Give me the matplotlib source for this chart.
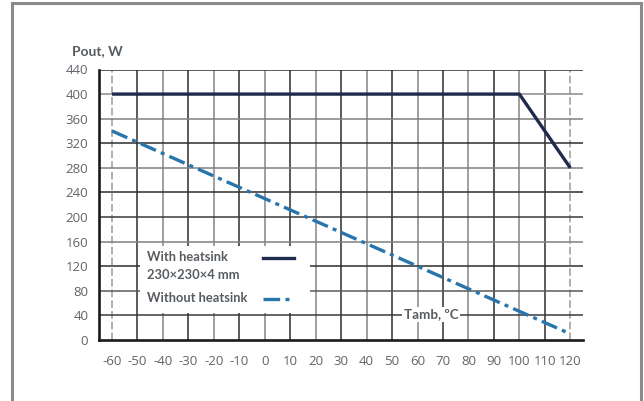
import matplotlib
matplotlib.use("Agg")
import matplotlib.pyplot as plt
from matplotlib.patches import Rectangle

plt.rcParams["axes.unicode_minus"] = False

# ---- data ----
temp_heatsink = [-60, 100, 120]
pout_heatsink = [400, 400, 280]
temp_no_heatsink = [-60, 120]
pout_no_heatsink = [340, 10]
x_ticks = list(range(-60, 121, 10))
y_ticks = list(range(0, 441, 40))
legend_labels = ["With heatsink", "230×230×4 mm", "Without heatsink"]
y_title = "Pout, W"
x_title = "Tamb, ºC"

TXT = "#575c61"
LBL_FONT = ["Lato", "DejaVu Sans"]
TICK_FONT = ["Open Sans", "DejaVu Sans"]

fig = plt.figure(figsize=(6.44, 4.01), dpi=100)
fig.patch.set_facecolor("white")

# outer frame (left, top, right)
fl, fr, ft = 12 / 644, 641 / 644, 1 - 3 / 401
for xs, ys in [([fl, fl], [0, ft]), ([fl, fr], [ft, ft]), ([fr, fr], [ft, 0])]:
    fig.add_artist(plt.Line2D(xs, ys, color="#8a8a8a", lw=2.2, transform=fig.transFigure))

ax = fig.add_axes([99.3 / 644, 1 - 340 / 401, (583 - 99.3) / 644, (340 - 69.5) / 401])
ax.set_xlim(-65, 125)
ax.set_ylim(0, 440)

for i, xv in enumerate(x_ticks):
    if xv in (-60, 120):
        ax.axvline(xv, color="#9a9a9a", lw=1.1, ls=(0, (5, 2)), zorder=1)
    else:
        ax.axvline(xv, color="#2e2e2e" if i % 2 == 1 else "#858585", lw=1.1, zorder=1)
hcols = {440: "#2e2e2e", 400: "#8a8a8a", 360: "#808080", 320: "#2e2e2e", 280: "#808080",
         240: "#2e2e2e", 200: "#3a3a3a", 160: "#808080", 120: "#2e2e2e", 80: "#5a5a5a", 40: "#3a3a3a"}
for yv in y_ticks:
    if yv == 0:
        continue
    ax.axhline(yv, color=hcols.get(yv, "#333333"), lw=1.1, zorder=1)

for s in ["top", "right"]:
    ax.spines[s].set_visible(False)
for s in ["left", "bottom"]:
    ax.spines[s].set_color("#1a1a1a")
    ax.spines[s].set_linewidth(1.9)
    ax.spines[s].set_zorder(5)

ax.set_xticks(x_ticks)
ax.set_yticks(y_ticks)
ax.tick_params(length=0, pad=8, labelcolor="#60656a")
ax.tick_params(axis="x", pad=11)
for lab in ax.get_xticklabels() + ax.get_yticklabels():
    lab.set_family(TICK_FONT)
    lab.set_fontsize(9.5)

# legend box
ax.add_patch(Rectangle((0.0841, 0.0998), 0.4356 - 0.0841, 0.3475 - 0.0998,
                       transform=ax.transAxes, facecolor="white", edgecolor="none", zorder=2))

# lines
ax.plot(temp_heatsink, pout_heatsink, color="#1e2b4d", lw=2.4, zorder=4, solid_capstyle="butt")
ax.plot(temp_no_heatsink, pout_no_heatsink, color="#2875ad", lw=2.4, zorder=4,
        dashes=(5, 1.6, 1.2, 1.6), dash_capstyle="butt")

# legend contents
lt = dict(transform=ax.transAxes, color=TXT, fontsize=9.3, family=LBL_FONT,
          fontweight="bold", va="center", ha="left", zorder=3)
ax.text(0.0977, 0.308, legend_labels[0], **lt)
ax.text(0.0977, 0.240, legend_labels[1], **lt)
ax.text(0.0977, 0.155, legend_labels[2], **lt)
ax.plot([0.3378, 0.4026], [0.303, 0.303], transform=ax.transAxes, color="#1e2b4d", lw=2.4, zorder=3)
ax.plot([0.3378, 0.4026], [0.1516, 0.1516], transform=ax.transAxes, color="#2875ad", lw=2.4,
        dashes=(5, 1.6, 1.2, 1.6), zorder=3)

# axis titles
ax.text(0.686, 0.094, x_title, transform=ax.transAxes, color=TXT, fontsize=9.6, family=LBL_FONT,
        fontweight="bold", ha="center", va="center", zorder=3,
        bbox=dict(facecolor="white", edgecolor="none", pad=1.0))
fig.text(72 / 644, 1 - 51 / 401, y_title, color=TXT, fontsize=10, family=LBL_FONT,
         fontweight="bold", ha="left", va="center")

fig.savefig("out.png", dpi=100)
